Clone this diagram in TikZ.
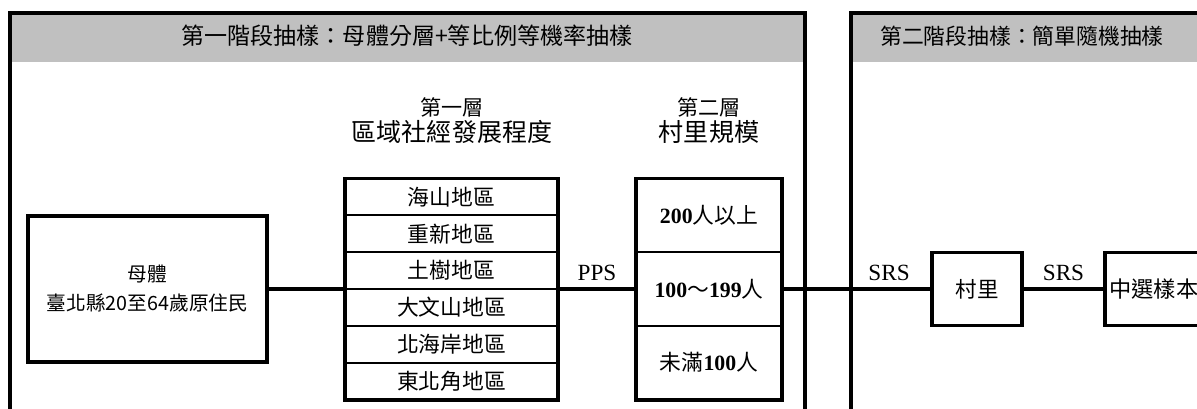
\documentclass[tikz,border=0pt]{standalone}
\usepackage{fontspec}
\setmainfont{Noto Sans CJK TC}
\newfontfamily\tnr{Liberation Serif}
\usepackage{xcolor}
\usetikzlibrary{positioning}
\definecolor{headgray}{RGB}{192,192,192}
\newcommand{\nb}[1]{{\tnr\bfseries #1}}

\begin{document}
\begin{tikzpicture}[x=0.025cm,y=-0.025cm,
	frame/.style={line width=2.8pt},
	box/.style={draw,line width=2.8pt,inner sep=0pt},
	cell/.style={draw,line width=1.2pt,inner sep=0pt,minimum width=5.325cm,minimum height=0.921cm,font=\fontsize{15.5}{18}\selectfont},
	link/.style={line width=2.4pt},
	lbl/.style={font=\tnr\fontsize{16.5}{18}\selectfont,inner sep=1pt}]
	\useasboundingbox (0,0) rectangle (1197,408);
	\fill[headgray] (10,13) rectangle (805,62);
	\fill[headgray] (851,13) rectangle (1197,62);
	\draw[frame] (10,410) -- (10,13) -- (805,13) -- (805,410);
	\draw[frame] (851,410) -- (851,13) -- (1200,13);
	\node[font=\fontsize{16.4}{20}\selectfont] (stageone) at (407,36) {第一階段抽樣：母體分層+等比例等機率抽樣};
	\node[font=\fontsize{15.5}{20}\selectfont] (stagetwo) at (1022,36) {第二階段抽樣：簡單隨機抽樣};
	\node[font=\fontsize{15}{18}\selectfont] (layerone) at (452,107) {第一層};
	\node[font=\fontsize{17.8}{20}\selectfont] (layeronename) at (452,132) {區域社經發展程度};
	\node[font=\fontsize{15}{18}\selectfont] (layertwo) at (709,107) {第二層};
	\node[font=\fontsize{17.8}{20}\selectfont] (layertwoname) at (709,132) {村里規模};
	\node[box,minimum width=5.975cm,minimum height=3.65cm,align=center,font=\fontsize{14}{20.6}\selectfont] (pop) at (147.5,289) {母體\\臺北縣20至64歲原住民};
	\foreach \name [count=\i] in {海山地區,重新地區,土樹地區,大文山地區,北海岸地區,東北角地區}
		\node[cell] (s\i) at (451.5,{178.5+(\i-0.5)*36.83}) {\name};
	\node[box,minimum width=5.325cm,minimum height=5.525cm] (strata) at (451.5,289) {};
	\node[cell,minimum width=3.65cm,minimum height=1.842cm] (z1) at (709,215.3) {\nb{200}人以上};
	\node[cell,minimum width=3.65cm,minimum height=1.842cm] (z2) at (709,289) {\nb{100}～\nb{199}人};
	\node[cell,minimum width=3.65cm,minimum height=1.842cm] (z3) at (709,362.7) {未滿\nb{100}人};
	\node[box,minimum width=3.65cm,minimum height=5.525cm] (size) at (709,289) {};
	\node[box,minimum width=2.25cm,minimum height=1.825cm,font=\fontsize{15.3}{18}\selectfont] (vil) at (977,289) {村里};
	\node[box,minimum width=2.45cm,minimum height=1.825cm,anchor=west,font=\fontsize{15.8}{18}\selectfont] (samp) at (1103,289) {中選樣本};
	\draw[link] (pop.east) -- (strata.west);
	\draw[link] (strata.east) -- node[lbl,above=4pt] (pps) {PPS} (size.west);
	\draw[link] (size.east) -- node[lbl,above=4pt,pos=0.72] (srsa) {SRS} (vil.west);
	\draw[link] (vil.east) -- node[lbl,above=4pt] (srsb) {SRS} (samp.west);
\end{tikzpicture}
\end{document}
